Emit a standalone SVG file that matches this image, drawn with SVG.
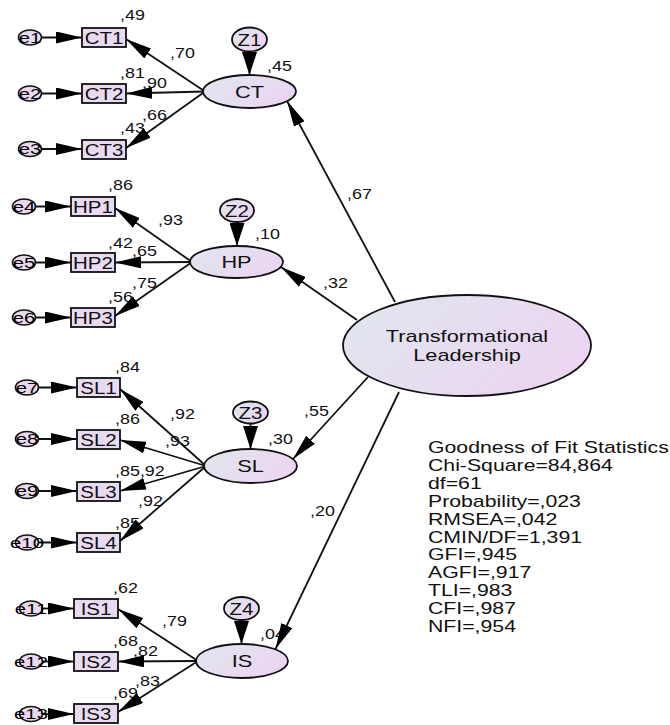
<svg xmlns="http://www.w3.org/2000/svg" width="670" height="725" viewBox="0 0 670 725">
<style>
text{font-family:"Liberation Sans",Arial,sans-serif;fill:#111}
.lb{font-size:14px}
.bx{font-size:16px;text-anchor:middle}
.lt{font-size:17px;text-anchor:middle}
.ec{font-size:14px;text-anchor:middle;fill:#000}
.zt{font-size:16px;text-anchor:middle}
.st{font-size:17px}
.box{fill:#e8daf1;stroke:#111;stroke-width:1.8}
.lat{fill:url(#g);stroke:#111;stroke-width:1.8}
.err{fill:#ead8ef;stroke:#111;stroke-width:1.6}
.c line{stroke:#111;stroke-width:1.8;marker-end:url(#ah)}
.c line.v{marker-end:url(#av)}
</style>
<defs>
<linearGradient id="g" x1="0" y1="0.3" x2="1" y2="0.7">
<stop offset="0" stop-color="#e1e5ee"/>
<stop offset="1" stop-color="#ecd4f2"/>
</linearGradient>
<marker id="ah" viewBox="0 0 26 12" markerWidth="26" markerHeight="12" refX="26" refY="6" orient="auto" markerUnits="userSpaceOnUse">
<path d="M0,0 L26,6 L0,12 Z" fill="#000"/>
</marker>
<marker id="av" viewBox="0 0 23 15" markerWidth="23" markerHeight="15" refX="23" refY="7.5" orient="auto" markerUnits="userSpaceOnUse">
<path d="M0,0 L23,7.5 L0,15 Z" fill="#000"/>
</marker>
</defs>
<rect width="670" height="725" fill="#fff"/>

<g id="labels">
<text class="lb" transform="translate(120 20) scale(1.28 1)">,49</text>
<text class="lb" transform="translate(170 58) scale(1.28 1)">,70</text>
<text class="lb" transform="translate(120 78) scale(1.28 1)">,81</text>
<text class="lb" transform="translate(142 88) scale(1.28 1)">,90</text>
<text class="lb" transform="translate(142 120) scale(1.28 1)">,66</text>
<text class="lb" transform="translate(120 133) scale(1.28 1)">,43</text>
<text class="lb" transform="translate(267 71) scale(1.28 1)">,45</text>
<text class="lb" transform="translate(347 199) scale(1.28 1)">,67</text>
<text class="lb" transform="translate(108 190) scale(1.28 1)">,86</text>
<text class="lb" transform="translate(158 225) scale(1.28 1)">,93</text>
<text class="lb" transform="translate(108 248) scale(1.28 1)">,42</text>
<text class="lb" transform="translate(132 256) scale(1.28 1)">,65</text>
<text class="lb" transform="translate(132 288) scale(1.28 1)">,75</text>
<text class="lb" transform="translate(108 302) scale(1.28 1)">,56</text>
<text class="lb" transform="translate(255 239) scale(1.28 1)">,10</text>
<text class="lb" transform="translate(323 288) scale(1.28 1)">,32</text>
<text class="lb" transform="translate(115 372) scale(1.28 1)">,84</text>
<text class="lb" transform="translate(170 419) scale(1.28 1)">,92</text>
<text class="lb" transform="translate(115 424) scale(1.28 1)">,86</text>
<text class="lb" transform="translate(165 446) scale(1.28 1)">,93</text>
<text class="lb" transform="translate(115 476) scale(1.28 1)">,85,92</text>
<text class="lb" transform="translate(138 506) scale(1.28 1)">,92</text>
<text class="lb" transform="translate(115 528) scale(1.28 1)">,85</text>
<text class="lb" transform="translate(268 444) scale(1.28 1)">,30</text>
<text class="lb" transform="translate(304 416) scale(1.28 1)">,55</text>
<text class="lb" transform="translate(310 516) scale(1.28 1)">,20</text>
<text class="lb" transform="translate(260 639) scale(1.28 1)">,04</text>
<text class="lb" transform="translate(113 593) scale(1.28 1)">,62</text>
<text class="lb" transform="translate(162 626) scale(1.28 1)">,79</text>
<text class="lb" transform="translate(113 646) scale(1.28 1)">,68</text>
<text class="lb" transform="translate(133 656) scale(1.28 1)">,82</text>
<text class="lb" transform="translate(135 686) scale(1.28 1)">,83</text>
<text class="lb" transform="translate(113 698) scale(1.28 1)">,69</text>
</g>

<g id="connectors" class="c">
<line x1="41" y1="37.5" x2="82" y2="37.5"/>
<line x1="41" y1="93.5" x2="82" y2="93.5"/>
<line x1="41" y1="149" x2="82" y2="149"/>
<line x1="35" y1="206.5" x2="71" y2="206.5"/>
<line x1="35" y1="262.5" x2="71" y2="262.5"/>
<line x1="35" y1="317.5" x2="71" y2="317.5"/>
<line x1="38" y1="387.5" x2="77" y2="387.5"/>
<line x1="38" y1="439" x2="77" y2="439"/>
<line x1="38" y1="491" x2="77" y2="491"/>
<line x1="38" y1="542.5" x2="77" y2="542.5"/>
<line x1="42" y1="608.5" x2="74" y2="608.5"/>
<line x1="42" y1="661.5" x2="74" y2="661.5"/>
<line x1="42" y1="714" x2="74" y2="714"/>
<line x1="205" y1="91.5" x2="126" y2="39"/>
<line x1="205" y1="91.5" x2="126" y2="93.5"/>
<line x1="205" y1="91.5" x2="126" y2="148"/>
<line x1="192" y1="262" x2="115" y2="208"/>
<line x1="192" y1="262" x2="115" y2="262.5"/>
<line x1="192" y1="262" x2="115" y2="316"/>
<line x1="206" y1="466" x2="120" y2="389"/>
<line x1="206" y1="466" x2="120" y2="440"/>
<line x1="206" y1="466" x2="120" y2="491"/>
<line x1="206" y1="466" x2="120" y2="541"/>
<line x1="198" y1="661" x2="118" y2="609"/>
<line x1="198" y1="661" x2="118" y2="661.5"/>
<line x1="198" y1="661" x2="118" y2="712"/>
<line class="v" x1="249.5" y1="51.5" x2="249.5" y2="75"/>
<line class="v" x1="237" y1="222" x2="237" y2="246"/>
<line class="v" x1="250.5" y1="423.5" x2="250.5" y2="449"/>
<line class="v" x1="241.5" y1="620" x2="241.5" y2="644"/>
<line x1="395" y1="302" x2="287" y2="101"/>
<line x1="357" y1="320" x2="281" y2="267"/>
<line x1="368" y1="377" x2="293" y2="459"/>
<line x1="399" y1="392" x2="275.5" y2="649"/>
</g>

<g id="TL"><ellipse class="lat" cx="467" cy="345.5" rx="124" ry="50.5"/>
<text class="lt" transform="translate(467 341.5) scale(1.28 1)">Transformational</text>
<text class="lt" transform="translate(467 361) scale(1.28 1)">Leadership</text></g>

<g id="CT"><ellipse class="lat" cx="249.5" cy="91.5" rx="46.5" ry="16.5"/><text class="lt" transform="translate(249.5 97.5) scale(1.28 1)">CT</text></g>
<g id="HP"><ellipse class="lat" cx="236.5" cy="262" rx="46.5" ry="16"/><text class="lt" transform="translate(236.5 268) scale(1.28 1)">HP</text></g>
<g id="SL"><ellipse class="lat" cx="250.5" cy="466" rx="46.5" ry="17"/><text class="lt" transform="translate(250.5 472) scale(1.28 1)">SL</text></g>
<g id="IS"><ellipse class="lat" cx="242" cy="661" rx="46" ry="17"/><text class="lt" transform="translate(242 667) scale(1.28 1)">IS</text></g>

<g id="Z1"><ellipse class="lat" cx="249.5" cy="39.5" rx="17.5" ry="12"/><text class="zt" transform="translate(249.5 45.5) scale(1.28 1)">Z1</text></g>
<g id="Z2"><ellipse class="lat" cx="237" cy="210.5" rx="17" ry="11.5"/><text class="zt" transform="translate(237 216.5) scale(1.28 1)">Z2</text></g>
<g id="Z3"><ellipse class="lat" cx="250.5" cy="412.5" rx="17.5" ry="11"/><text class="zt" transform="translate(250.5 418.5) scale(1.28 1)">Z3</text></g>
<g id="Z4"><ellipse class="lat" cx="241.5" cy="608.5" rx="17.5" ry="11.5"/><text class="zt" transform="translate(241.5 614.5) scale(1.28 1)">Z4</text></g>

<g id="CT1"><rect class="box" x="82" y="28" width="44" height="19"/><text class="bx" transform="translate(104 43.5) scale(1.28 1)">CT1</text></g>
<g id="CT2"><rect class="box" x="82" y="84" width="44" height="19"/><text class="bx" transform="translate(104 99.5) scale(1.28 1)">CT2</text></g>
<g id="CT3"><rect class="box" x="82" y="140" width="44" height="19"/><text class="bx" transform="translate(104 155.5) scale(1.28 1)">CT3</text></g>
<g id="HP1"><rect class="box" x="71" y="197" width="44" height="19"/><text class="bx" transform="translate(93 212.5) scale(1.28 1)">HP1</text></g>
<g id="HP2"><rect class="box" x="71" y="253" width="44" height="19"/><text class="bx" transform="translate(93 268.5) scale(1.28 1)">HP2</text></g>
<g id="HP3"><rect class="box" x="71" y="308" width="44" height="19"/><text class="bx" transform="translate(93 323.5) scale(1.28 1)">HP3</text></g>
<g id="SL1"><rect class="box" x="77" y="378" width="43" height="19"/><text class="bx" transform="translate(98.5 393.5) scale(1.28 1)">SL1</text></g>
<g id="SL2"><rect class="box" x="77" y="430" width="43" height="19"/><text class="bx" transform="translate(98.5 445.5) scale(1.28 1)">SL2</text></g>
<g id="SL3"><rect class="box" x="77" y="482" width="43" height="19"/><text class="bx" transform="translate(98.5 497.5) scale(1.28 1)">SL3</text></g>
<g id="SL4"><rect class="box" x="77" y="533" width="43" height="19"/><text class="bx" transform="translate(98.5 548.5) scale(1.28 1)">SL4</text></g>
<g id="IS1"><rect class="box" x="74" y="599" width="44" height="19"/><text class="bx" transform="translate(96 614.5) scale(1.28 1)">IS1</text></g>
<g id="IS2"><rect class="box" x="74" y="652" width="44" height="19"/><text class="bx" transform="translate(96 667.5) scale(1.28 1)">IS2</text></g>
<g id="IS3"><rect class="box" x="74" y="704" width="44" height="19"/><text class="bx" transform="translate(96 719.5) scale(1.28 1)">IS3</text></g>

<g id="e1"><ellipse class="err" cx="30" cy="37.5" rx="11.5" ry="7.5"/><text class="ec" transform="translate(30 42.5) scale(1.45 1)">e1</text></g>
<g id="e2"><ellipse class="err" cx="30" cy="93.5" rx="11.5" ry="7.5"/><text class="ec" transform="translate(30 98.5) scale(1.45 1)">e2</text></g>
<g id="e3"><ellipse class="err" cx="30" cy="149" rx="11.5" ry="7.5"/><text class="ec" transform="translate(30 154) scale(1.45 1)">e3</text></g>
<g id="e4"><ellipse class="err" cx="24" cy="206.5" rx="11.5" ry="7.5"/><text class="ec" transform="translate(24 211.5) scale(1.45 1)">e4</text></g>
<g id="e5"><ellipse class="err" cx="24" cy="262.5" rx="11.5" ry="7.5"/><text class="ec" transform="translate(24 267.5) scale(1.45 1)">e5</text></g>
<g id="e6"><ellipse class="err" cx="24" cy="317.5" rx="11.5" ry="7.5"/><text class="ec" transform="translate(24 322.5) scale(1.45 1)">e6</text></g>
<g id="e7"><ellipse class="err" cx="27" cy="387.5" rx="11.5" ry="7.5"/><text class="ec" transform="translate(27 392.5) scale(1.45 1)">e7</text></g>
<g id="e8"><ellipse class="err" cx="27" cy="439" rx="11.5" ry="7.5"/><text class="ec" transform="translate(27 444) scale(1.45 1)">e8</text></g>
<g id="e9"><ellipse class="err" cx="27" cy="491" rx="11.5" ry="7.5"/><text class="ec" transform="translate(27 496) scale(1.45 1)">e9</text></g>
<g id="e10"><ellipse class="err" cx="27" cy="542.5" rx="11.5" ry="7.5"/><text class="ec" transform="translate(27 547.5) scale(1.45 1)">e10</text></g>
<g id="e11"><ellipse class="err" cx="31" cy="608.5" rx="11.5" ry="7.5"/><text class="ec" transform="translate(31 613.5) scale(1.45 1)">e11</text></g>
<g id="e12"><ellipse class="err" cx="31" cy="661.5" rx="11.5" ry="7.5"/><text class="ec" transform="translate(31 666.5) scale(1.45 1)">e12</text></g>
<g id="e13"><ellipse class="err" cx="31" cy="714" rx="11.5" ry="7.5"/><text class="ec" transform="translate(31 719) scale(1.45 1)">e13</text></g>

<g id="fit">
<text class="st" transform="translate(428 453) scale(1.25 1)">Goodness of Fit Statistics</text>
<text class="st" transform="translate(428 470.9) scale(1.25 1)">Chi-Square=84,864</text>
<text class="st" transform="translate(428 488.8) scale(1.25 1)">df=61</text>
<text class="st" transform="translate(428 506.7) scale(1.25 1)">Probability=,023</text>
<text class="st" transform="translate(428 524.6) scale(1.25 1)">RMSEA=,042</text>
<text class="st" transform="translate(428 542.5) scale(1.25 1)">CMIN/DF=1,391</text>
<text class="st" transform="translate(428 560.4) scale(1.25 1)">GFI=,945</text>
<text class="st" transform="translate(428 578.3) scale(1.25 1)">AGFI=,917</text>
<text class="st" transform="translate(428 596.2) scale(1.25 1)">TLI=,983</text>
<text class="st" transform="translate(428 614.1) scale(1.25 1)">CFI=,987</text>
<text class="st" transform="translate(428 632) scale(1.25 1)">NFI=,954</text>
</g>
</svg>
